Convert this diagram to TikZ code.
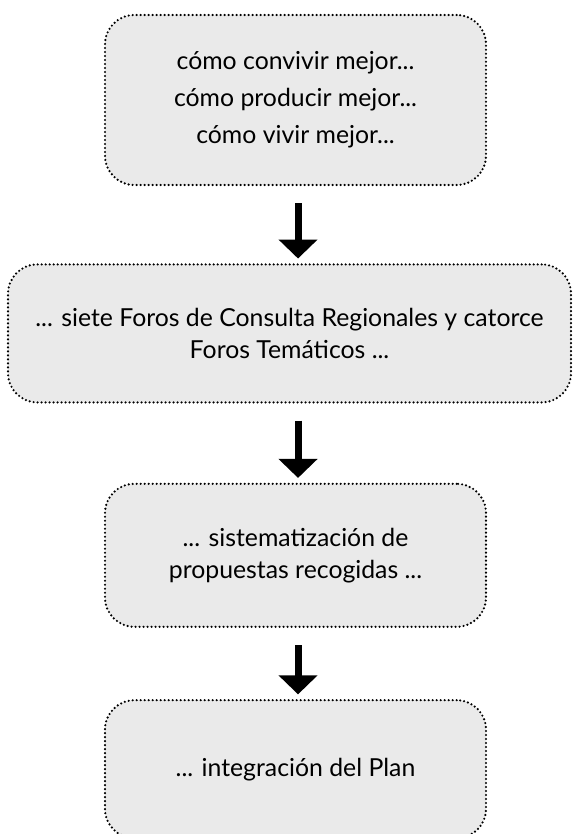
\documentclass[tikz,border=0pt]{standalone}
\usepackage{fontspec}
\setmainfont{Lato}
\usepackage{tikz}
\usetikzlibrary{arrows.meta,positioning}
\definecolor{pfgray}{HTML}{EAEAEA}

\begin{document}
\begin{tikzpicture}[
  x=0.75pt, y=-0.75pt,
  font=\fontsize{18.6}{24}\selectfont,
  stage/.style={draw=black, fill=pfgray, rounded corners=22pt, align=center,
                line width=1.8pt, dash pattern=on 0pt off 3pt, line cap=round,
                minimum width=285.75pt, inner sep=0pt},
  arr/.style={-{Triangle[length=14.25pt,width=28.5pt]}, line width=5.25pt,
              shorten <=12.75pt, shorten >=3.5pt}
]
\useasboundingbox (0,0) rectangle (577,834);

\node[stage, minimum height=127.5pt] (ideas) at (295.5,100)
  {cómo convivir mejor...\\[3.75pt]
   cómo producir mejor...\\[3.75pt]
   cómo vivir mejor...};

\node[stage, minimum height=103.5pt, minimum width=422.25pt,
      below=57.75pt of ideas, xshift=-4.5pt] (foros)
  {... siete Foros de Consulta Regionales y catorce\\
   Foros Temáticos ...};

\node[stage, minimum height=107.25pt, below=59.25pt of foros, xshift=4.5pt] (sistema)
  {... sistematización de\\
   propuestas recogidas ...};

\node[stage, minimum height=103.5pt, below=53.25pt of sistema] (plan)
  {... integración del Plan};

% flechas entre etapas
\draw[arr] ([xshift=1.9pt]ideas.south) -- ([xshift=1.9pt]ideas.south |- foros.north);
\draw[arr] ([xshift=1.9pt]sistema.north |- foros.south) -- ([xshift=1.9pt]sistema.north);
\draw[arr] ([xshift=1.9pt]sistema.south) -- ([xshift=1.9pt]plan.north);

\end{tikzpicture}
\end{document}
